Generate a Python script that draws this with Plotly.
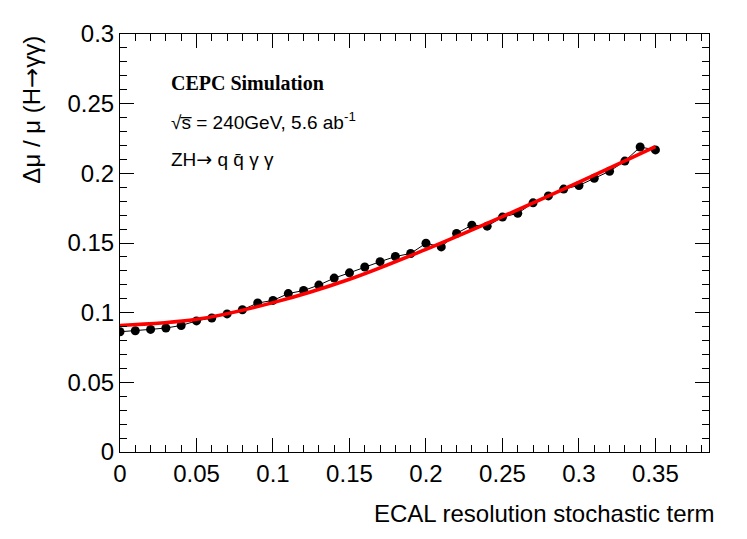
import plotly.graph_objects as go

# Data points (ECAL stochastic term vs relative precision)
x_points = [0.00, 0.01, 0.02, 0.03, 0.04, 0.05, 0.06, 0.07, 0.08, 0.09,
            0.10, 0.11, 0.12, 0.13, 0.14, 0.15, 0.16, 0.17, 0.18, 0.19,
            0.20, 0.21, 0.22, 0.23, 0.24, 0.25, 0.26, 0.27, 0.28, 0.29,
            0.30, 0.31, 0.32, 0.33, 0.34, 0.35]
y_points = [0.0863, 0.0870, 0.0880, 0.0890, 0.0908, 0.0941, 0.0962, 0.0991, 0.1021, 0.1069,
            0.1088, 0.1137, 0.1159, 0.1198, 0.1248, 0.1286, 0.1328, 0.1366, 0.1403, 0.1425,
            0.1498, 0.1472, 0.1569, 0.1628, 0.1621, 0.1686, 0.1713, 0.1788, 0.1838, 0.1887,
            0.1913, 0.1965, 0.2015, 0.2088, 0.2189, 0.2168]

# Fit curve values
x_fit = [0.00, 0.05, 0.10, 0.15, 0.20, 0.25, 0.30, 0.35]
y_fit = [0.0908, 0.0952, 0.1072, 0.1240, 0.1455, 0.1690, 0.1937, 0.2192]

x_ticks = [0, 0.05, 0.1, 0.15, 0.2, 0.25, 0.3, 0.35]
y_ticks = [0, 0.05, 0.1, 0.15, 0.2, 0.25, 0.3]

SANS = "Liberation Sans, Arial, Helvetica, sans-serif"
SERIF = "Liberation Serif, Times New Roman, serif"
ARROW = "<span style='font-family:DejaVu Sans'>→</span>"

fig = go.Figure()
fig.add_trace(go.Scatter(
    x=x_points, y=y_points, mode="lines+markers",
    line=dict(color="black", width=1),
    marker=dict(color="black", size=9),
    showlegend=False, hoverinfo="skip"))
fig.add_trace(go.Scatter(
    x=x_fit, y=y_fit, mode="lines",
    line=dict(color="#ff0000", width=3.5, shape="spline", smoothing=1.0),
    showlegend=False, hoverinfo="skip"))

axis_common = dict(
    showline=True, linecolor="black", linewidth=1, mirror="ticks",
    ticks="inside", ticklen=14, tickwidth=1, tickcolor="black",
    showgrid=False, zeroline=False,
    tickfont=dict(family=SANS, size=24, color="black"),
)

fig.update_xaxes(range=[0, 0.385], tickvals=x_ticks,
                 ticktext=[f"{v:g}" for v in x_ticks],
                 minor=dict(dtick=0.01, ticks="inside", ticklen=7, tickcolor="black", tickwidth=1, showgrid=False),
                 **axis_common)
fig.update_yaxes(range=[0, 0.3], tickvals=y_ticks,
                 ticktext=[f"{v:g}" for v in y_ticks],
                 minor=dict(dtick=0.01, ticks="inside", ticklen=7, tickcolor="black", tickwidth=1, showgrid=False),
                 **axis_common)

fig.update_layout(
    width=739, height=531,
    margin=dict(l=112, r=38, t=20, b=87),
    paper_bgcolor="white", plot_bgcolor="white",
    annotations=[
        dict(text="<b>CEPC Simulation</b>", x=0.084, y=0.882, xref="paper", yref="paper",
             xanchor="left", yanchor="middle", showarrow=False,
             font=dict(family=SERIF, size=20, color="black")),
        dict(text="√s̅ = 240GeV, 5.6 ab<sup>-1</sup>", x=0.084, y=0.792, xref="paper", yref="paper",
             xanchor="left", yanchor="middle", showarrow=False,
             font=dict(family=SANS, size=19, color="black")),
        dict(text="ZH" + ARROW + " q q̄ γ γ", x=0.084, y=0.700, xref="paper", yref="paper",
             xanchor="left", yanchor="middle", showarrow=False,
             font=dict(family=SANS, size=19, color="black")),
        dict(text="ECAL resolution stochastic term", x=1.0136, y=-0.146, xref="paper", yref="paper",
             xanchor="right", yanchor="middle", showarrow=False,
             font=dict(family=SANS, size=24, color="black")),
        dict(text="Δμ / μ (H" + ARROW + "γγ)", x=-0.150, y=1.0, xref="paper", yref="paper",
             xanchor="center", yanchor="top", textangle=-90, showarrow=False,
             font=dict(family=SANS, size=24, color="black")),
    ],
)

fig.write_html("out.html")
